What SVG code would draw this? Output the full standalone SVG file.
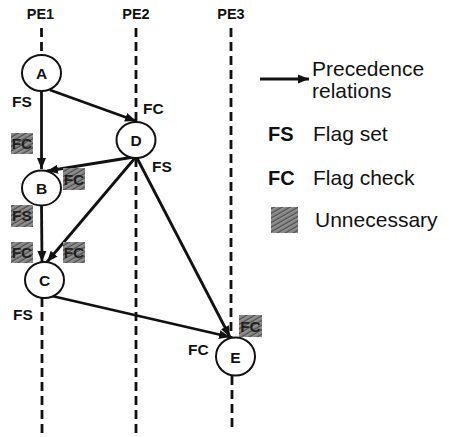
<svg xmlns="http://www.w3.org/2000/svg" width="449" height="437" viewBox="0 0 449 437">
<style>
.pe{font-family:"Liberation Sans",Arial,sans-serif;font-weight:bold;font-size:14.5px;fill:#111;text-anchor:middle}
.lab{font-family:"Liberation Sans",Arial,sans-serif;font-weight:bold;font-size:15.5px;fill:#111}
.nl{font-family:"Liberation Sans",Arial,sans-serif;font-weight:bold;font-size:15.5px;fill:#111;text-anchor:middle}
.hl{font-family:"Liberation Sans",Arial,sans-serif;font-weight:bold;font-size:15.5px;fill:#111;text-anchor:middle;opacity:0.85}
.lg{font-family:"Liberation Sans",Arial,sans-serif;font-size:21px;fill:#111}
.lgb{font-family:"Liberation Sans",Arial,sans-serif;font-weight:bold;font-size:20px;fill:#111}
.dash{stroke:#111;stroke-width:2.8;stroke-dasharray:9 5;fill:none}
.edge{stroke:#111;stroke-width:2.8;fill:none;marker-end:url(#ah)}
.node{fill:#fff;stroke:#111;stroke-width:2}
.hatch{fill:url(#hp)}
</style>
<defs>
<pattern id="hp" width="4" height="4" patternUnits="userSpaceOnUse" patternTransform="rotate(60)">
<rect width="4" height="4" fill="#7a7a7a"/>
<line x1="0" y1="0" x2="0" y2="4" stroke="#3a3a3a" stroke-width="1.4"/>
<line x1="2" y1="0" x2="2" y2="4" stroke="#b0b0b0" stroke-width="0.8"/>
</pattern>
<marker id="ah" markerUnits="userSpaceOnUse" markerWidth="12" markerHeight="10" viewBox="0 0 12 10" refX="11" refY="5" orient="auto">
<path d="M0,0.5 L11,5 L0,9.5 Z" fill="#111"/>
</marker>
</defs>

<g id="lanes">
<text class="pe" x="40.5" y="19">PE1</text>
<text class="pe" x="136" y="19">PE2</text>
<text class="pe" x="231" y="19">PE3</text>
<line class="dash" x1="41.5" y1="28" x2="41.5" y2="55"/>
<line class="dash" x1="42" y1="298" x2="42" y2="435"/>
<line class="dash" x1="136" y1="28" x2="136" y2="122"/>
<line class="dash" x1="136" y1="158" x2="136" y2="435"/>
<line class="dash" x1="231" y1="28" x2="231" y2="337"/>
<line class="dash" x1="232" y1="376" x2="232" y2="432"/>
</g>

<g id="connectors">
<line class="edge" x1="41.5" y1="91" x2="41.5" y2="169"/>
<line class="edge" x1="50" y1="90" x2="136" y2="121"/>
<line class="edge" x1="134" y1="157" x2="47" y2="171"/>
<line class="edge" x1="135" y1="158" x2="47" y2="262"/>
<line class="edge" x1="137" y1="158" x2="230" y2="337"/>
<line class="edge" x1="41.5" y1="206" x2="42" y2="262"/>
<line class="edge" x1="52" y1="296" x2="230" y2="337"/>
</g>

<g id="nodeA"><ellipse class="node" cx="41.5" cy="73" rx="19.5" ry="18"/><text class="nl" x="41.5" y="79">A</text></g>
<g id="nodeB"><ellipse class="node" cx="41.5" cy="188" rx="19.5" ry="17.5"/><text class="nl" x="41.5" y="194">B</text></g>
<g id="nodeC"><ellipse class="node" cx="44.5" cy="280" rx="19.5" ry="18"/><text class="nl" x="44.5" y="286">C</text></g>
<g id="nodeD"><ellipse class="node" cx="136" cy="140" rx="19.5" ry="18"/><text class="nl" x="136" y="146">D</text></g>
<g id="nodeE"><ellipse class="node" cx="235.5" cy="356.5" rx="19.5" ry="19"/><text class="nl" x="235.5" y="362.5">E</text></g>

<g id="labels">
<text class="lab" x="12" y="107">FS</text>
<text class="lab" x="143" y="114">FC</text>
<text class="lab" x="152" y="172">FS</text>
<text class="lab" x="13" y="320">FS</text>
<text class="lab" x="188" y="355">FC</text>
</g>

<g id="unnecessary">
<rect class="hatch" x="11" y="133" width="22" height="21"/><text class="hl" x="22" y="149">FC</text>
<rect class="hatch" x="63" y="168" width="22" height="22"/><text class="hl" x="74" y="185">FC</text>
<rect class="hatch" x="11" y="205" width="22" height="22"/><text class="hl" x="22" y="221">FS</text>
<rect class="hatch" x="11" y="242" width="22" height="21"/><text class="hl" x="22" y="258">FC</text>
<rect class="hatch" x="63" y="242" width="22" height="21"/><text class="hl" x="74" y="258">FC</text>
<rect class="hatch" x="239" y="315" width="23" height="22"/><text class="hl" x="250.5" y="331.5">FC</text>
</g>

<g id="legend">
<line class="edge" x1="260" y1="79" x2="309" y2="79"/>
<text class="lg" x="312" y="76">Precedence</text>
<text class="lg" x="312" y="98">relations</text>
<text class="lgb" x="268" y="141">FS</text>
<text class="lg" x="313" y="141">Flag set</text>
<text class="lgb" x="268" y="185">FC</text>
<text class="lg" x="313" y="185">Flag check</text>
<rect class="hatch" x="271" y="207" width="27" height="26"/>
<text class="lg" x="315" y="227">Unnecessary</text>
</g>
</svg>
